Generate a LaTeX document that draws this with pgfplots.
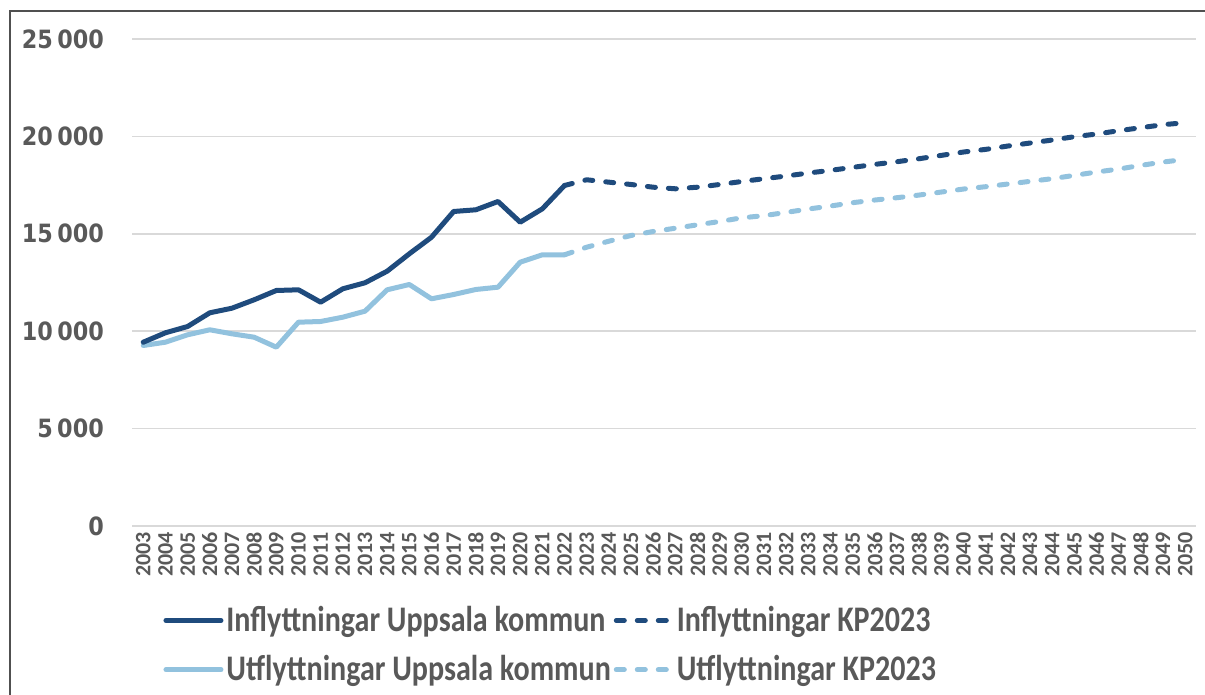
\documentclass[border=0pt]{standalone}
\usepackage{fontspec}
\setmainfont{Carlito}
\newfontfamily\legfont{Carlito Bold}[FakeStretch=0.835]
\newfontfamily\yfont{DejaVu Sans Bold}[FakeStretch=0.885]
\usepackage{pgfplots}
\pgfplotsset{compat=1.18}
\definecolor{InDark}{RGB}{31,75,125}
\definecolor{UtLight}{RGB}{146,194,222}
\definecolor{TxtGray}{RGB}{89,89,89}
\definecolor{GridGray}{RGB}{217,217,217}
\definecolor{FrameGray}{RGB}{80,80,80}

% values
\pgfplotstableread{
year val
2003 9435
2004 9918
2005 10241
2006 10944
2007 11181
2008 11612
2009 12089
2010 12125
2011 11489
2012 12177
2013 12485
2014 13080
2015 13973
2016 14825
2017 16145
2018 16232
2019 16658
2020 15596
2021 16283
2022 17480
}\inHist
\pgfplotstableread{
year val
2022 17480
2023 17772
2024 17650
2025 17531
2026 17392
2027 17310
2028 17392
2029 17531
2030 17685
2031 17829
2032 17966
2033 18120
2034 18257
2035 18410
2036 18564
2037 18701
2038 18855
2039 19026
2040 19198
2041 19334
2042 19506
2043 19660
2044 19814
2045 19985
2046 20122
2047 20293
2048 20447
2049 20601
2050 20703
}\inProg
\pgfplotstableread{
year val
2003 9266
2004 9435
2005 9815
2006 10072
2007 9866
2008 9692
2009 9179
2010 10462
2011 10498
2012 10719
2013 11027
2014 12125
2015 12397
2016 11663
2017 11884
2018 12141
2019 12259
2020 13542
2021 13922
2022 13922
}\utHist
\pgfplotstableread{
year val
2022 13922
2023 14312
2024 14620
2025 14913
2026 15118
2027 15287
2028 15462
2029 15631
2030 15821
2031 15930
2032 16100
2033 16272
2034 16426
2035 16597
2036 16734
2037 16853
2038 16990
2039 17144
2040 17298
2041 17418
2042 17555
2043 17692
2044 17829
2045 18000
2046 18171
2047 18325
2048 18513
2049 18684
2050 18821
}\utProg

\tikzset{
    histline/.style={line width=2.5pt, line cap=round, line join=round},
    progline/.style={line width=2.5pt, line cap=round, line join=round, dash pattern=on 4pt off 6.5pt}
}

\begin{document}
\begin{tikzpicture}
\useasboundingbox (0,0) rectangle (602.5pt,347.5pt);
\begin{axis}[
    scale only axis,
    at={(66.1pt,84.5pt)}, anchor=south west,
    width=532.1pt, height=243.5pt,
    xmin=2002.5, xmax=2050.5,
    ymin=0, ymax=25000,
    scaled y ticks=false,
    xtick={2003,...,2050},
    ytick={0,5000,...,25000},
    yticklabels={0,5\hspace{0.17em}000,10\hspace{0.17em}000,15\hspace{0.17em}000,20\hspace{0.17em}000,25\hspace{0.17em}000},
    /pgf/number format/assume math mode=true,
    x tick label style={/pgf/number format/1000 sep={}},
    major tick length=0pt,
    axis line style={draw=none},
    ymajorgrids=true,
    grid style={GridGray, line width=0.85pt},
    yticklabel style={font=\yfont\fontsize{12.6}{14}\selectfont, text=TxtGray, inner sep=0pt, xshift=-14pt},
    xticklabel style={font=\bfseries\fontsize{11}{12}\selectfont, text=TxtGray, rotate=90, anchor=east, inner sep=0pt},
    xticklabel shift=3pt,
    legend columns=2,
    legend cell align=left,
    legend style={at={(axis description cs:0.029,-0.158)}, anchor=north west,
        draw=none, fill=none, inner sep=0pt,
        font=\legfont\fontsize{18}{22}\selectfont, text=TxtGray,
        nodes={inner sep=1.5pt},
        /tikz/every odd column/.style={column sep=0pt},
        row sep=7.5pt},
    legend image code/.code={\draw[#1] (1.25pt,0pt) -- (28.75pt,0pt);},
]
\addlegendimage{histline, InDark}
\addlegendentry{Inflyttningar Uppsala kommun}
\addlegendimage{progline, InDark}
\addlegendentry{Inflyttningar KP2023}
\addlegendimage{histline, UtLight}
\addlegendentry{Utflyttningar Uppsala kommun}
\addlegendimage{progline, UtLight}
\addlegendentry{Utflyttningar KP2023}

\addplot[histline, UtLight, forget plot] table[x=year, y=val] {\utHist};
\addplot[progline, UtLight, forget plot] table[x=year, y=val] {\utProg};
\addplot[histline, InDark, forget plot] table[x=year, y=val] {\inHist};
\addplot[progline, InDark, forget plot] table[x=year, y=val] {\inProg};
\end{axis}
\draw[FrameGray, line width=1pt] (5pt,0pt) -- (5pt,342pt) -- (602.5pt,342pt);
\end{tikzpicture}
\end{document}
